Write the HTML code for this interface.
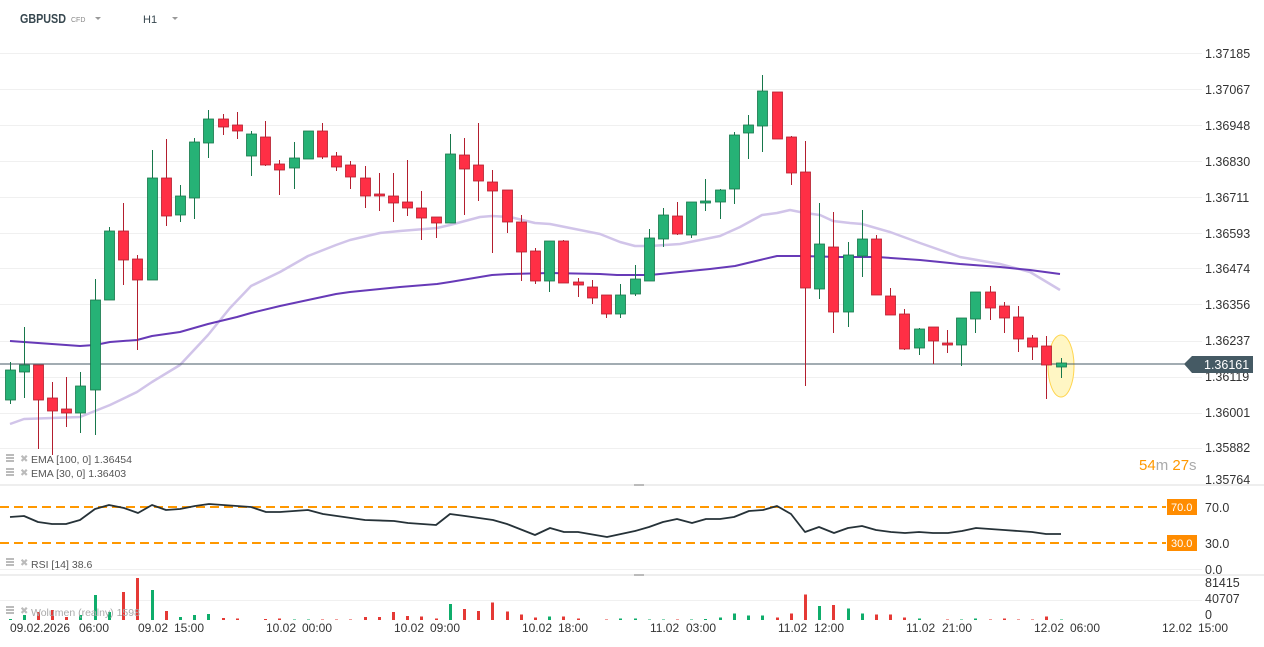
<!DOCTYPE html>
<html><head><meta charset="utf-8"><style>
html,body{margin:0;padding:0;background:#fff;}
body{width:1264px;height:647px;overflow:hidden;font-family:"Liberation Sans",sans-serif;}
svg{display:block}
</style></head><body>
<svg id="c" width="1264" height="647" xmlns="http://www.w3.org/2000/svg" font-family="Liberation Sans, sans-serif">
<g id="grid" stroke="#f0f0f0" stroke-width="1"></g>
<text x="20" y="23" font-size="13" font-weight="bold" fill="#37474f" textLength="46" lengthAdjust="spacingAndGlyphs">GBPUSD</text>
<text x="71" y="22" font-size="7" fill="#888">CFD</text>
<path d="M95 17 L101 17 L98 20 Z" fill="#999"/>
<text x="143" y="23" font-size="11" fill="#37474f">H1</text>
<path d="M172 17 L178 17 L175 20 Z" fill="#999"/>
<g font-size="12.5" fill="#333">
<text x="1205" y="58">1.37185</text><text x="1205" y="94">1.37067</text><text x="1205" y="130">1.36948</text>
<text x="1205" y="166">1.36830</text><text x="1205" y="202">1.36711</text><text x="1205" y="238">1.36593</text>
<text x="1205" y="273">1.36474</text><text x="1205" y="309">1.36356</text><text x="1205" y="345">1.36237</text>
<text x="1205" y="381">1.36119</text><text x="1205" y="417">1.36001</text><text x="1205" y="452">1.35882</text>
<text x="1205" y="484">1.35764</text>
<text x="1205" y="512">70.0</text><text x="1205" y="548">30.0</text><text x="1205" y="574">0.0</text>
<text x="1205" y="587">81415</text><text x="1205" y="603">40707</text><text x="1205" y="619">0</text>
</g>
<line x1="0" y1="485" x2="1264" y2="485" stroke="#ddd"/>
<line x1="0" y1="575" x2="1264" y2="575" stroke="#ddd"/>
<rect x="634" y="484" width="10" height="2" fill="#bbb"/>
<rect x="634" y="574" width="10" height="2" fill="#bbb"/>
<g id="vol"></g>
<polyline id="e30" fill="none" stroke="#d1c4e9" stroke-width="2.5" stroke-linejoin="round"/>
<polyline id="e100" fill="none" stroke="#673ab7" stroke-width="2" stroke-linejoin="round"/>
<ellipse cx="1061" cy="366" rx="13" ry="31" fill="#fff6c4" stroke="#ffd54f" stroke-width="1"/>
<line x1="0" y1="364" x2="1186" y2="364" stroke="#455a64" stroke-width="1"/>
<g id="cnd"></g>
<path d="M1184 364 L1192 356 L1253 356 L1253 373 L1192 373 Z" fill="#455a64"/>
<text x="1204" y="369" font-size="12.5" fill="#fff">1.36161</text>
<text x="1139" y="470" font-size="15" fill="#ff9800">54<tspan fill="#aaa">m</tspan> 27<tspan fill="#aaa">s</tspan></text>
<g font-size="10.5" fill="#555">
<rect x="6" y="454" width="8" height="2" fill="#bbb"/><rect x="6" y="457" width="8" height="2" fill="#bbb"/><rect x="6" y="460" width="8" height="2" fill="#bbb"/>
<text x="20" y="462" fill="#bbb" font-size="10">✖</text><text x="31" y="463">EMA  [100,  0]  1.36454</text>
<rect x="6" y="468" width="8" height="2" fill="#bbb"/><rect x="6" y="471" width="8" height="2" fill="#bbb"/><rect x="6" y="474" width="8" height="2" fill="#bbb"/>
<text x="20" y="476" fill="#bbb" font-size="10">✖</text><text x="31" y="477">EMA  [30,  0]  1.36403</text>
<rect x="6" y="558" width="8" height="2" fill="#bbb"/><rect x="6" y="561" width="8" height="2" fill="#bbb"/><rect x="6" y="564" width="8" height="2" fill="#bbb"/>
<text x="20" y="566" fill="#bbb" font-size="10">✖</text><text x="31" y="568">RSI  [14]  38.6</text>
<rect x="6" y="606" width="8" height="2" fill="#bbb"/><rect x="6" y="609" width="8" height="2" fill="#bbb"/><rect x="6" y="612" width="8" height="2" fill="#bbb"/>
<text x="20" y="614" fill="#bbb" font-size="10">✖</text><text x="31" y="616" fill="#aaa">Wolumen  (realny)  1598</text>
</g>
<line x1="0" y1="507" x2="1166" y2="507" stroke="#ff9800" stroke-width="2" stroke-dasharray="9,5"/>
<line x1="0" y1="543" x2="1166" y2="543" stroke="#ff9800" stroke-width="2" stroke-dasharray="9,5"/>
<rect x="1167" y="499" width="30" height="16" fill="#ff8c00"/><text x="1171" y="511" font-size="11" fill="#fff">70.0</text>
<rect x="1167" y="535" width="30" height="16" fill="#ff8c00"/><text x="1171" y="547" font-size="11" fill="#fff">30.0</text>
<polyline id="rsi" fill="none" stroke="#263238" stroke-width="1.8" stroke-linejoin="round"/>
<g font-size="12" fill="#333">
<text x="10" y="632">09.02.2026</text><text x="79" y="632">06:00</text>
<text x="138" y="632">09.02</text><text x="174" y="632">15:00</text>
<text x="266" y="632">10.02</text><text x="302" y="632">00:00</text>
<text x="394" y="632">10.02</text><text x="430" y="632">09:00</text>
<text x="522" y="632">10.02</text><text x="558" y="632">18:00</text>
<text x="650" y="632">11.02</text><text x="686" y="632">03:00</text>
<text x="778" y="632">11.02</text><text x="814" y="632">12:00</text>
<text x="906" y="632">11.02</text><text x="942" y="632">21:00</text>
<text x="1034" y="632">12.02</text><text x="1070" y="632">06:00</text>
<text x="1162" y="632">12.02</text><text x="1198" y="632">15:00</text>
</g>
</svg>
<script>
var NS="http://www.w3.org/2000/svg";
function el(p,t,a){var e=document.createElementNS(NS,t);for(var k in a)e.setAttribute(k,a[k]);p.appendChild(e);return e;}
var g=document.getElementById('grid');
[53,89,125,161,197,233,268,304,341,377,413,448,569,600].forEach(function(y){el(g,'line',{x1:0,y1:y+0.5,x2:1202,y2:y+0.5});});
var C=[[10,370,400,362,404,1],[24,365,372,327,398,1],[38,365,400,365,449,0],[52,398,411,382,455,0],[66,409,413,377,427,0],
[80,386,413,372,433,1],[95,300,390,279,435,1],[109,231,300,227,300,1],[123,231,260,203,285,0],[137,259,280,255,350,0],
[152,178,280,150,280,1],[166,178,216,139,226,0],[180,196,215,185,222,1],[194,142,198,138,219,1],[208,119,143,110,158,1],
[223,119,127,114,135,0],[237,125,131,112,139,0],[251,134,156,131,176,1],[265,137,165,121,166,0],[279,164,170,160,195,0],
[294,158,168,142,189,1],[308,131,159,131,159,1],[322,131,157,123,159,0],[336,156,167,152,171,0],[350,165,177,161,189,0],
[365,178,196,166,208,0],[379,194,196,173,211,0],[393,196,203,173,222,0],[407,202,208,160,216,0],[421,208,218,191,240,0],
[436,217,223,217,238,0],[450,154,223,134,223,1],[464,155,169,138,215,0],[478,165,181,123,201,0],[492,182,191,170,253,0],
[507,190,222,190,233,0],[521,222,252,215,281,0],[535,251,281,248,284,0],[549,241,281,241,292,1],[563,241,283,240,283,0],
[578,282,285,278,297,0],[592,287,298,280,304,0],[606,295,314,295,318,0],[620,295,314,284,318,1],[635,279,294,265,296,1],
[649,238,281,229,281,1],[663,215,239,208,247,1],[677,216,234,202,235,0],[691,202,235,202,238,1],[705,201,203,179,211,1],
[720,190,202,189,219,1],[734,135,189,132,204,1],[748,125,133,115,159,1],[762,91,126,75,152,1],[777,92,139,92,139,0],
[791,137,173,136,185,0],[805,172,288,141,386,0],[819,244,289,203,299,1],[833,247,312,212,333,0],[848,255,312,242,327,1],
[862,239,256,210,277,1],[876,239,295,235,295,0],[890,296,315,288,315,0],[904,314,349,309,350,0],[919,329,348,328,355,1],
[933,327,341,327,364,0],[947,343,345,330,353,0],[961,318,345,318,366,1],[975,292,319,292,333,1],[990,292,308,286,320,0],
[1004,306,318,302,333,0],[1018,317,339,306,352,0],[1032,338,347,335,360,0],[1046,346,365,336,399,0],[1061,363,367,358,378,1]];
var cg=document.getElementById('cnd');
C.forEach(function(c){var gr=c[5],fc=gr?'#26b276':'#ff2f45',sc=gr?'#17774b':'#b31e2e';
el(cg,'line',{x1:c[0]+0.5,y1:c[3],x2:c[0]+0.5,y2:c[4],stroke:sc,'stroke-width':1});
el(cg,'rect',{x:c[0]-4.5,y:c[1],width:10,height:Math.max(c[2]-c[1],1.5),fill:fc,stroke:sc,'stroke-width':0.8});});
var V=[1,5,8,10,3,5,25,8,28,42,30,9,3,5,6,2,1.5,0,1,1.5,0.5,0.5,0.5,0.5,0.5,3,3,8,4,3.5,1.5,16,11,9,17.5,8.5,5.5,2.5,3.5,3.5,1.5,0,0.5,1.5,1.5,0.5,0.5,0.5,0.5,1,2.5,6.5,4.5,4.5,2.5,6.5,25.5,14,15,11.5,6.5,5.5,5.5,2.5,1.5,0,0.5,0.5,1.5,0.5,1.5,0.5,0.5,3.5,0.5];
var vg=document.getElementById('vol');
C.forEach(function(c,i){var h=V[i];if(h<=0)return;el(vg,'rect',{x:c[0]-1,y:620-h,width:3,height:h,fill:c[5]?'#0fad6b':'#e53935'});});
document.getElementById('e100').setAttribute('points',"10,341 24,342 52,344 80,346 95,345 110,342 137,340 152,336 180,332 208,324 237,317 251,313 280,306 308,300 336,294 350,292 380,289 400,287 437,284 450,282 480,277 492,275 510,274 550,273 600,274 617,275 650,275 680,272 710,269 735,266 760,260 777,256 800,256 840,257 877,257 920,260 960,264 1000,267 1030,270 1060,274");
document.getElementById('e30').setAttribute('points',"10,424 24,419 52,418 80,417 95,411 110,405 137,392 152,382 180,365 208,335 230,308 251,286 280,272 308,256 336,245 350,240 380,233 400,231 437,228 450,225 480,217 492,216 510,217 535,223 550,224 600,234 620,242 635,246 650,246 680,244 700,240 720,236 740,227 762,215 777,213 790,210 805,213 820,215 833,221 850,223 862,224 890,232 920,243 960,257 1000,264 1030,272 1060,290");
document.getElementById('rsi').setAttribute('points',"10,517 24,516 38,522 52,524 66,524 80,520 95,509 109,505 124,508 138,513 152,505 166,510 180,509 195,506 209,504 237,506 251,507 266,512 280,512 308,510 323,514 351,518 365,520 394,521 408,523 436,525 450,514 465,516 493,520 507,524 535,535 550,528 564,532 578,532 607,537 621,534 635,531 649,527 663,522 677,519 692,523 706,519 720,519 734,517 749,511 763,510 777,506 791,514 805,532 819,527 834,533 848,528 862,526 876,530 891,532 905,533 919,532 933,533 948,533 962,531 976,528 990,529 1004,530 1018,531 1032,532 1046,534 1061,534");
</script>
</body></html>
